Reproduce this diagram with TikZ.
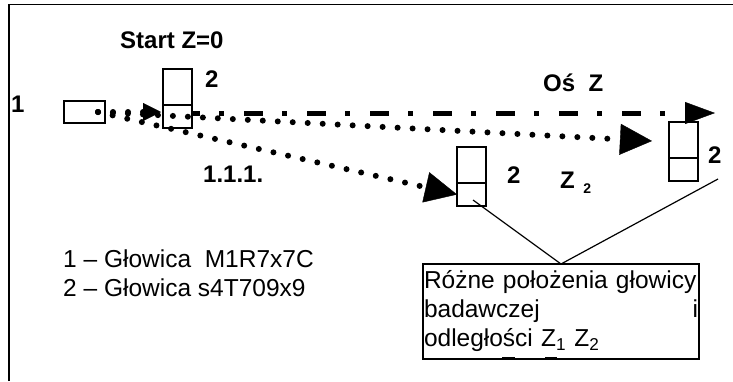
\documentclass[tikz,border=0pt]{standalone}
\usepackage{fontspec}
\setmainfont{Liberation Sans}
\usetikzlibrary{arrows.meta,calc}
\begin{document}
\begin{tikzpicture}[x=1pt,y=-1pt,
  box/.style={draw,line width=1.3pt,inner sep=0pt,outer sep=0pt,rectangle},
  headtop/.style={box,minimum width=29pt,minimum height=36pt,anchor=north west},
  headbot/.style={box,minimum width=29pt,minimum height=23pt,anchor=north},
  lbl/.style={font=\fontsize{24}{28}\selectfont\bfseries,inner sep=0pt,anchor=base west},
  txt/.style={font=\fontsize{24.5}{29}\selectfont},
  dots/.style={line width=6pt,line cap=round,dash pattern=on 0pt off 15pt},
  bigtip/.style={-{Triangle[length=32pt,width=31pt,line width=0.4pt]}},
  smalltip/.style={-{Triangle[length=18pt,width=18pt,line width=0.4pt]}},
  axisline/.style={line width=5pt,dash pattern=on 19pt off 19pt on 5pt off 20pt,dash phase=11pt,
                   -{Triangle[length=30pt,width=22pt,line width=0.4pt]}},
  thinline/.style={line width=1.2pt},
]
\useasboundingbox (0,0) rectangle (733,381);
% frame
\draw[line width=1.6pt] (9,381) -- (9,4.5) -- (733,4.5);

% heads
\node[box,minimum width=41pt,minimum height=22pt,anchor=north west] (box1) at (64,101) {};
\node[headtop] (h1top) at (163,69) {};
\node[headbot] (h1bot) at (h1top.south) {};
\node[headtop] (h2top) at (457,147) {};
\node[headbot] (h2bot) at (h2top.south) {};
\node[headtop] (h3top) at (669,122) {};
\node[headbot] (h3bot) at (h3top.south) {};

% labels
\node[lbl] (l1) at (11,112) {1};
\node[lbl] (lstart) at (120,48) {Start Z=0};
\node[lbl] (l2a) at (205,87) {2};
\node[lbl] (los) at (543,91) {Oś\ \ Z};
\node[lbl] (l111) at (203,182) {1.1.1.};
\node[lbl] (l2b) at (507,183) {2};
\node[lbl] (lz2) at (560,188) {Z\hspace{8.5pt}\raisebox{-5pt}{\fontsize{14}{14}\selectfont 2}};
\node[lbl] (l2c) at (708,163) {2};

% paths
\coordinate (s) at (98,112);
\coordinate (t1) at (161,112);
\coordinate (t2) at (652,141);
\coordinate (a0) at (192,113);
\coordinate (a1) at (715,113);
\draw[axisline] (a0) -- (a1);
\draw[dots,smalltip] (s) -- (t1);
\draw[dots,bigtip] (s) -- (t2);
\draw[dots,bigtip] (s) -- (h2bot.west);

% legend
\node[txt,anchor=base west,align=left,inner sep=0pt] (legend) at (63,296)
  {1 – Głowica\ \ M1R7x7C\\2 – Głowica s4T709x9};

% text box
\node[box,txt,anchor=north west,text width=274pt,minimum height=95pt,inner xsep=1pt,align=left] (tbox) at (423,264)
  {\mbox{Różne położenia głowicy}\\badawczej\hfill i\\odległości Z\textsubscript{1} Z\textsubscript{2}};
\draw[line width=2.5pt] (502,358.5) -- (515,358.5);
\draw[line width=2.5pt] (545,358.5) -- (557,358.5);

% connectors
\coordinate (c1) at (473,200);
\coordinate (c2) at (718,179);
\draw[thinline] (c1) -- (tbox.north);
\draw[thinline] (c2) -- (tbox.north);
\end{tikzpicture}
\end{document}
